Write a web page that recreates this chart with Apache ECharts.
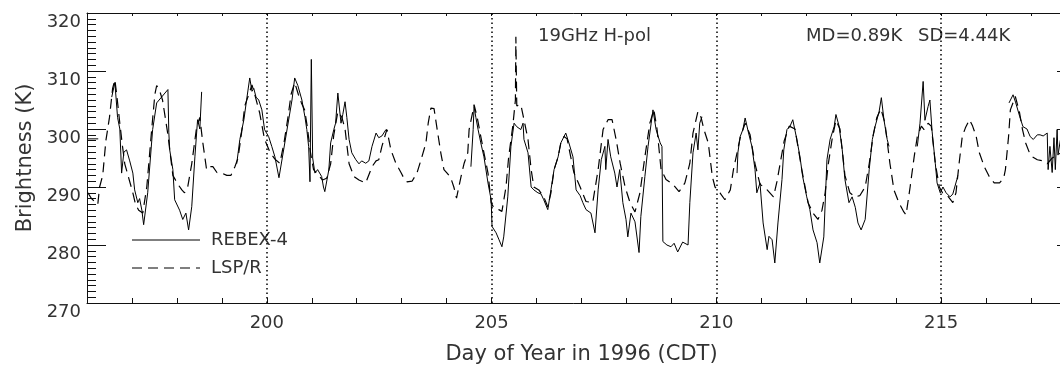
<!DOCTYPE html>
<html>
<head>
<meta charset="utf-8">
<script src="https://cdn.jsdelivr.net/npm/echarts@6/dist/echarts.min.js"></script>
<style>
html,body{margin:0;padding:0;background:#fff;}
#chart{width:1060px;height:369px;}
</style>
</head>
<body>
<div id="chart"></div>
<script>
// ---- data (day of year, brightness K); null marks a gap ----
const rebexDays = [
196.02,196.25,196.40,
196.55,196.62,196.68,196.73,196.77,196.82,196.88,196.95,197.02,197.06,197.13,197.17,197.22,197.26,197.35,197.46,197.55,197.80,197.82,197.84,197.91,197.95,198.06,198.13,198.20,198.26,198.33,198.40,198.46,198.51,198.55,
198.90,
199.33,199.40,199.49,199.55,199.62,199.67,199.71,199.76,199.82,199.89,199.95,200.04,200.11,200.18,200.27,200.56,200.62,200.69,200.78,200.85,200.89,200.93,200.96,200.99,201.02,201.07,201.13,201.22,201.26,201.29,201.38,201.42,201.49,201.53,201.58,201.65,201.69,201.74,201.78,201.83,201.89,201.98,202.05,202.11,202.20,202.27,202.34,202.43,202.49,202.56,202.65,202.69,
203.50,
204.54,204.59,204.61,204.65,204.70,204.76,204.83,204.92,204.99,205.01,205.10,205.16,205.23,205.27,205.36,205.43,205.50,205.56,205.65,205.70,205.72,205.81,205.88,205.94,206.03,206.10,206.16,206.25,206.32,206.39,206.48,206.54,206.65,206.72,206.81,206.88,206.97,207.03,207.10,207.21,207.30,207.37,207.44,207.52,207.54,207.59,207.65,207.74,207.79,207.85,207.92,207.99,208.03,208.10,208.19,208.28,208.32,208.41,208.48,208.55,208.59,208.66,208.75,208.79,208.81,208.90,208.99,209.06,209.14,209.25,209.37,209.41,209.48,209.55,209.59,209.63,209.68,
210.00,
210.46,210.48,210.53,210.59,210.64,210.71,210.79,210.86,210.90,210.97,211.01,211.04,211.13,211.17,211.24,211.30,211.37,211.46,211.50,211.57,211.64,211.70,211.79,211.86,211.92,212.01,212.08,212.15,212.24,212.30,212.39,212.46,212.53,212.62,212.66,212.73,212.80,212.86,212.95,213.02,213.09,213.15,213.22,213.31,213.40,213.47,213.53,213.62,213.67,213.73,213.80,213.84,
214.10,
214.47,214.53,214.60,214.64,214.71,214.75,214.80,214.87,214.91,214.98,215.04,215.11,215.20,215.26,215.35,215.37,
216.00,
216.51,216.60,216.66,216.75,216.82,216.91,216.98,217.05,217.14,217.20,217.27,217.36,217.38,217.42,217.47,217.51,217.54,217.58,217.60,217.65,217.75,217.90
];
const rebexTemps = [
298.3,298.3,null,
305.5,308.0,302.0,300.0,292.4,296.0,296.4,294.5,292.4,289.5,287.3,288.0,286.0,283.5,289.0,299.9,304.5,306.8,299.4,296.4,293.0,287.8,286.0,284.4,285.5,282.6,286.6,295.2,301.6,300.0,306.4,
null,
294.0,298.2,301.6,305.0,308.8,306.5,307.0,305.5,305.0,303.3,299.9,298.7,297.0,295.2,291.6,305.0,308.8,307.5,305.0,302.0,299.9,297.0,290.9,312.0,295.0,292.4,293.0,291.8,290.0,289.2,293.0,297.6,299.9,301.0,306.2,301.0,302.5,304.7,302.0,298.2,295.9,294.7,294.0,294.5,294.1,294.5,297.0,299.3,298.5,298.8,299.9,299.7,
null,
293.5,299.9,303.9,302.0,299.9,297.6,295.2,290.7,287.8,283.2,282.1,281.0,279.7,281.4,288.3,297.0,301.0,300.4,299.9,301.0,298.2,295.9,290.0,289.5,289.0,288.8,287.8,286.1,289.5,293.0,295.2,297.6,299.3,297.6,295.2,289.5,288.5,287.3,286.1,285.5,282.1,289.5,294.7,297.0,293.0,298.2,295.2,292.4,290.0,293.0,287.3,284.4,281.4,285.5,284.0,278.7,284.9,291.8,297.0,301.0,303.3,299.9,297.6,297.0,280.6,280.0,279.7,280.3,278.8,280.5,280.0,287.3,295.9,299.3,296.4,301.0,302.1,
null,
292.4,296.0,298.7,299.9,301.9,299.5,297.0,293.0,289.0,290.7,290.5,283.8,279.2,281.5,280.9,276.9,283.8,291.3,296.4,299.9,300.5,301.6,298.2,295.2,291.8,288.3,286.1,282.6,280.4,276.9,281.4,294.7,298.2,300.4,302.5,300.5,296.4,291.3,287.3,288.3,286.5,283.8,282.6,284.4,293.0,298.2,300.4,303.0,305.4,301.5,298.2,297.0,
null,
297.0,301.0,308.2,301.5,303.9,305.0,299.5,294.1,290.7,289.0,290.0,289.0,288.3,288.8,291.3,292.0,
null,
304.5,305.9,304.5,302.1,300.4,300.0,298.7,298.2,299.0,299.0,298.8,299.3,293.0,297.0,292.5,298.5,293.0,299.9,295.5,298.0,297.0,298.0
];
const lspDays = [
196.02,196.10,196.17,196.24,196.28,196.35,196.42,196.50,196.57,196.62,196.66,196.73,196.79,196.84,196.93,197.02,197.08,197.15,197.24,197.33,197.44,197.51,197.55,197.62,197.68,197.80,197.91,198.02,198.11,198.17,198.24,198.33,198.44,198.51,198.57,198.66,198.73,198.80,198.89,199.00,199.11,199.20,199.29,199.36,199.45,199.51,199.60,199.67,199.73,199.84,199.95,200.07,200.18,200.29,200.38,200.47,200.54,200.62,200.70,200.77,200.84,200.90,200.97,201.04,201.15,201.24,201.33,201.42,201.49,201.58,201.67,201.74,201.83,201.94,202.05,202.20,202.34,202.43,202.49,202.56,202.67,202.76,202.87,202.99,203.05,203.12,203.23,203.34,203.45,203.54,203.59,203.65,203.72,203.78,203.87,203.94,204.01,204.09,204.16,204.22,204.32,204.39,204.47,204.50,204.59,204.61,204.68,204.76,204.83,204.92,204.99,205.05,205.16,205.23,205.32,205.38,205.47,205.53,205.54,205.56,205.65,205.72,205.81,205.88,205.94,206.05,206.16,206.25,206.32,206.39,206.48,206.54,206.61,206.68,206.76,206.83,206.97,207.10,207.25,207.37,207.48,207.59,207.68,207.77,207.86,207.97,208.08,208.19,208.30,208.41,208.52,208.61,208.68,208.77,208.88,209.04,209.17,209.30,209.41,209.48,209.59,209.66,209.72,209.82,209.91,209.97,210.08,210.19,210.31,210.38,210.46,210.53,210.64,210.75,210.86,210.97,211.13,211.27,211.35,211.42,211.51,211.62,211.75,211.90,212.04,212.15,212.26,212.35,212.42,212.49,212.58,212.66,212.75,212.86,212.97,213.09,213.19,213.31,213.40,213.49,213.57,213.66,213.75,213.86,213.95,214.06,214.17,214.22,214.31,214.40,214.47,214.56,214.62,214.71,214.78,214.87,214.96,215.03,215.14,215.26,215.33,215.40,215.47,215.54,215.63,215.70,215.78,215.85,215.96,216.07,216.18,216.30,216.39,216.43,216.50,216.54,216.65,216.74,216.81,216.88,216.96,217.03,217.14,217.26,217.36,217.47,217.58,217.69,217.90
];
const lspTemps = [
289.0,288.0,287.5,287.0,290.0,292.0,298.0,302.0,307.0,308.5,306.0,301.0,297.0,294.0,291.5,289.0,287.0,286.0,285.5,290.0,300.0,306.0,307.5,306.5,305.0,299.0,292.0,290.5,289.5,289.0,290.0,294.0,300.4,302.0,298.0,293.0,293.5,293.5,292.5,292.4,292.0,292.0,293.5,295.0,300.0,304.0,306.0,307.6,306.0,302.8,298.2,296.0,294.8,294.1,297.5,302.0,306.0,308.0,306.0,304.5,303.3,300.4,296.0,293.0,292.0,291.2,291.5,294.0,299.0,303.0,302.0,300.0,294.0,291.8,291.2,290.7,293.5,294.5,294.7,297.0,299.9,296.4,294.1,292.4,291.5,290.9,291.0,292.4,295.2,297.6,301.0,303.6,303.5,300.4,295.9,293.0,292.4,291.6,290.0,288.1,291.8,294.1,295.9,299.9,303.3,304.2,302.0,298.7,295.9,292.4,287.3,286.4,286.1,285.8,290.0,295.2,300.4,305.0,315.9,304.0,304.2,301.6,298.2,293.0,290.0,289.5,288.3,286.6,289.0,293.0,295.2,297.6,298.7,298.3,295.2,292.5,290.0,287.5,287.3,293.0,299.9,301.6,301.6,298.2,294.1,290.0,287.3,285.7,289.0,295.2,301.0,303.3,300.0,293.0,291.3,290.4,289.2,290.7,294.1,299.3,303.0,302.0,300.0,297.6,291.8,290.0,289.0,287.8,289.5,293.0,295.9,298.5,301.0,299.0,294.0,290.5,289.5,288.3,291.0,294.1,298.0,300.5,300.0,293.0,287.3,285.5,284.4,286.0,289.0,294.0,298.5,301.5,300.0,292.0,289.0,288.3,288.5,290.0,294.0,299.0,302.0,303.5,301.0,294.1,289.5,287.3,285.7,285.2,290.0,295.2,298.7,300.5,299.9,301.0,300.5,294.1,290.0,289.0,288.5,287.3,289.0,294.1,298.7,300.2,301.6,300.5,298.7,295.9,293.5,291.8,290.7,290.7,291.5,293.0,298.7,303.3,305.6,303.0,299.9,297.6,296.0,295.2,294.7,294.5,294.0,295.0,295.5,296.0,296.0
];
const xTickLabels = [200, 205, 210, 215];
const dayMarkers = [200, 205, 210, 215];
const seriesNames = ['REBEX-4', 'LSP/R'];

const pairs = (d, t) => d.map((x, i) => [x, t[i]]);

const FONT = 'DejaVu Sans';
const TXT = '#333';
const chart = echarts.init(document.getElementById('chart'), null, {renderer: 'canvas'});
chart.setOption({
  animation: false,
  backgroundColor: '#fff',
  grid: {left: 87, width: 989, top: 13, height: 290, containLabel: false, outerBoundsMode: 'none'},
  xAxis: [{
    type: 'value', min: 196, max: 218, interval: 1, position: 'bottom',
    name: 'Day of Year in 1996 (CDT)', nameLocation: 'middle', nameGap: 41,
    nameTextStyle: {fontFamily: FONT, fontSize: 21, color: TXT},
    axisLine: {show: true, onZero: false, lineStyle: {color: '#111', width: 1}},
    axisTick: {show: true, inside: true, length: 5, lineStyle: {color: '#111'}},
    axisLabel: {show: true, margin: 11, fontFamily: FONT, fontSize: 18, color: TXT,
      formatter: v => xTickLabels.includes(v) ? String(v) : ''},
    splitLine: {show: false}
  }, {
    type: 'value', min: 196, max: 218, interval: 1, position: 'top',
    axisLine: {show: true, onZero: false, lineStyle: {color: '#111', width: 1}},
    axisTick: {show: true, inside: true, length: 3, lineStyle: {color: '#111'}},
    axisLabel: {show: false}, splitLine: {show: false}
  }],
  yAxis: [{
    type: 'value', min: 270, max: 320, interval: 10, position: 'left',
    name: 'Brightness (K)', nameLocation: 'middle', nameGap: 51,
    nameTextStyle: {fontFamily: FONT, fontSize: 21, color: TXT},
    axisLine: {show: true, onZero: false, lineStyle: {color: '#111', width: 1}},
    axisTick: {show: true, inside: true, length: 19, lineStyle: {color: '#111'}},
    minorTick: {show: true, splitNumber: 10, length: 9, lineStyle: {color: '#111'}},
    axisLabel: {show: true, margin: 6, fontFamily: FONT, fontSize: 18, color: TXT, verticalAlign: 'top', lineHeight: 18},
    splitLine: {show: false}
  }, {
    type: 'value', min: 270, max: 320, interval: 10, position: 'right',
    axisLine: {show: true, onZero: false, lineStyle: {color: '#111', width: 1}},
    axisTick: {show: true, inside: true, length: 19, lineStyle: {color: '#111'}},
    minorTick: {show: true, splitNumber: 10, length: 9, lineStyle: {color: '#111'}},
    axisLabel: {show: false}, splitLine: {show: false}
  }],
  series: [{
    name: seriesNames[0], type: 'line', data: pairs(rebexDays, rebexTemps),
    symbol: 'none', connectNulls: false, z: 3,
    lineStyle: {color: '#000', width: 1, type: 'solid'},
    itemStyle: {color: '#000'}
  }, {
    name: seriesNames[1], type: 'line', data: pairs(lspDays, lspTemps),
    symbol: 'none', connectNulls: false, z: 2,
    lineStyle: {color: '#000', width: 1.2, type: [10, 6]},
    itemStyle: {color: '#000'},
    markLine: {
      silent: true, symbol: 'none', label: {show: false},
      lineStyle: {color: '#000', width: 1.5, type: [1.5, 3]},
      data: dayMarkers.map(d => ({xAxis: d}))
    }
  }],
  graphic: [
    {type: 'line', shape: {x1: 132, y1: 240, x2: 200, y2: 240}, style: {stroke: '#000', lineWidth: 1}},
    {type: 'line', shape: {x1: 132, y1: 268, x2: 200, y2: 268}, style: {stroke: '#000', lineWidth: 1.2, lineDash: [10, 6]}},
    {type: 'text', left: 211, top: 231, style: {text: seriesNames[0], fontFamily: FONT, fontSize: 18, fill: TXT}},
    {type: 'text', left: 211, top: 259, style: {text: seriesNames[1], fontFamily: FONT, fontSize: 18, fill: TXT}},
    {type: 'text', left: 538, top: 27, style: {text: '19GHz H-pol', fontFamily: FONT, fontSize: 18, fill: TXT}},
    {type: 'text', left: 806, top: 27, style: {text: 'MD=0.89K', fontFamily: FONT, fontSize: 18, fill: TXT}},
    {type: 'text', left: 918, top: 27, style: {text: 'SD=4.44K', fontFamily: FONT, fontSize: 18, fill: TXT}}
  ]
});
</script>
</body>
</html>
